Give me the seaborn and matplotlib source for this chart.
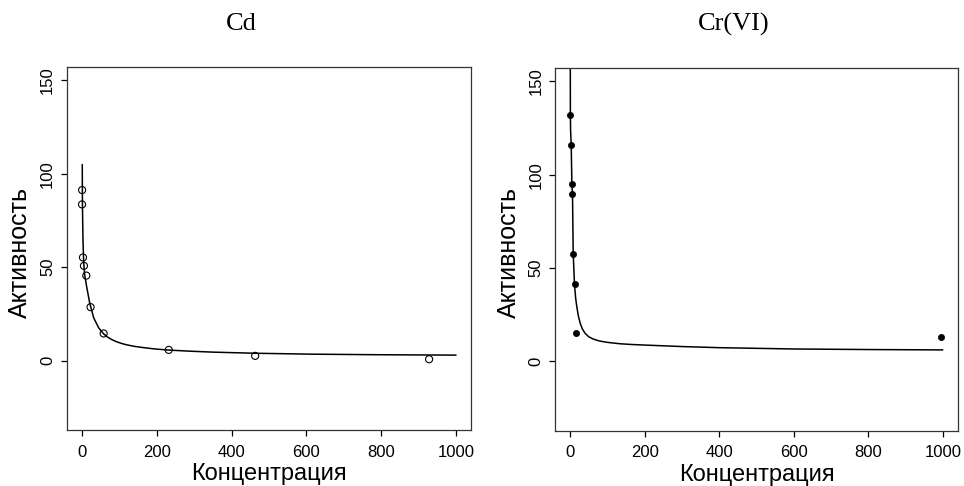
import matplotlib
matplotlib.use("Agg")
import matplotlib.pyplot as plt
import numpy as np
import seaborn as sns

cd_conc = [0.4, 0.2, 2.7, 5.3, 11.6, 23, 58, 232, 463, 928]
cd_act = [91.3, 83.6, 55.2, 50.7, 45.5, 28.6, 14.5, 5.7, 2.5, 0.7]
cd_fit_x = [0.8, 1.3, 2.7, 4.5, 7.2, 12.6, 20.6, 31.3, 44.7, 58, 68, 80, 92,
            105, 120, 140, 165, 195, 232, 290, 350, 463, 619, 800, 1000]
cd_fit_y = [105, 83.4, 64.7, 52.9, 45.9, 39.5, 30.9, 22.9, 17.5, 14.3, 12.6,
            11.2, 10.1, 9.2, 8.4, 7.6, 6.9, 6.2, 5.6, 5.0, 4.5, 3.9, 3.4, 3.1, 2.9]

# Cr(VI)
cr_conc = [0.3, 2.7, 3.6, 5.4, 7.1, 11.6, 16, 994.6]
cr_act = [132, 116, 95.2, 89.5, 57.7, 41.4, 15, 13.2]
cr_fit_x = [0.2, 0.5, 1.0, 2.7, 4.5, 6.2, 8, 11.5, 14.5, 17.9, 22, 26.8, 33,
            40, 50, 62, 78, 98, 115, 134, 165, 200, 250, 300, 400, 600, 800, 1000]
cr_fit_y = [165, 132, 124, 116, 95, 89.5, 58, 41.4, 34, 29, 24.2, 20.4, 17.2,
            15.0, 13.1, 11.9, 10.9, 10.2, 9.8, 9.4, 9.0, 8.7, 8.3, 7.9, 7.3,
            6.6, 6.3, 6.1]

x_ticks = [0, 200, 400, 600, 800, 1000]
y_ticks = [0, 50, 100, 150]

sns.set_theme(style="ticks")
plt.rcParams['font.family'] = ['Liberation Sans', 'DejaVu Sans']
plt.rcParams.update({"text.color": "black", "axes.labelcolor": "black",
                     "xtick.color": "black", "ytick.color": "black"})

W, H = 964, 486
fig = plt.figure(figsize=(W / 100, H / 100), dpi=100)


def make_axes(left, right, top, bottom):
    return fig.add_axes([left / W, 1 - bottom / H, (right - left) / W, (bottom - top) / H])


ax1 = make_axes(67, 471, 67, 430)
ax2 = make_axes(555.3, 957.7, 68, 430.7)

sns.lineplot(x=cd_fit_x, y=cd_fit_y, ax=ax1, color="black", linewidth=1.1,
             sort=False, estimator=None)
sns.scatterplot(x=cd_conc, y=cd_act, ax=ax1, marker="o", s=26,
                facecolors="none", edgecolor="black", linewidth=0.8)

sns.lineplot(x=cr_fit_x, y=cr_fit_y, ax=ax2, color="black", linewidth=1.1,
             sort=False, estimator=None)
sns.scatterplot(x=cr_conc, y=cr_act, ax=ax2, marker="o", s=20,
                color="black", edgecolor="black", linewidth=0.5)

for ax in (ax1, ax2):
    ax.set_xlim(-40, 1040)
    ax.set_ylim(-37.2, 157.2)
    ax.set_xticks(x_ticks)
    ax.set_yticks(y_ticks)
    ax.set_xticklabels([str(t) for t in x_ticks], fontsize=12)
    ax.set_yticklabels([str(t) for t in y_ticks], fontsize=12,
                       rotation=90, va="center")
    ax.tick_params(axis="both", direction="out", length=4.5, width=0.9,
                   color="black", bottom=True, left=True)
    ax.tick_params(axis="x", pad=6)
    ax.tick_params(axis="y", pad=4)
    for sp in ax.spines.values():
        sp.set_visible(True)
        sp.set_color("#333333")
        sp.set_linewidth(0.9)
    ax.set_xlabel("Концентрация", fontsize=17)
    ax.set_ylabel("Активность", fontsize=18)
    ax.xaxis.set_label_coords(0.5, -0.092)
    ax.yaxis.label.set_va("center")
    ax.yaxis.set_label_coords(-0.116, 0.49)

fig.text(241.7 / W, 1 - 24 / H, "Cd", family="Liberation Serif",
         fontsize=19, ha="center", va="center")
fig.text(733.5 / W, 1 - 24 / H, "Cr(VI)", family="Liberation Serif",
         fontsize=19, ha="center", va="center")

fig.savefig("out.png", dpi=100)
